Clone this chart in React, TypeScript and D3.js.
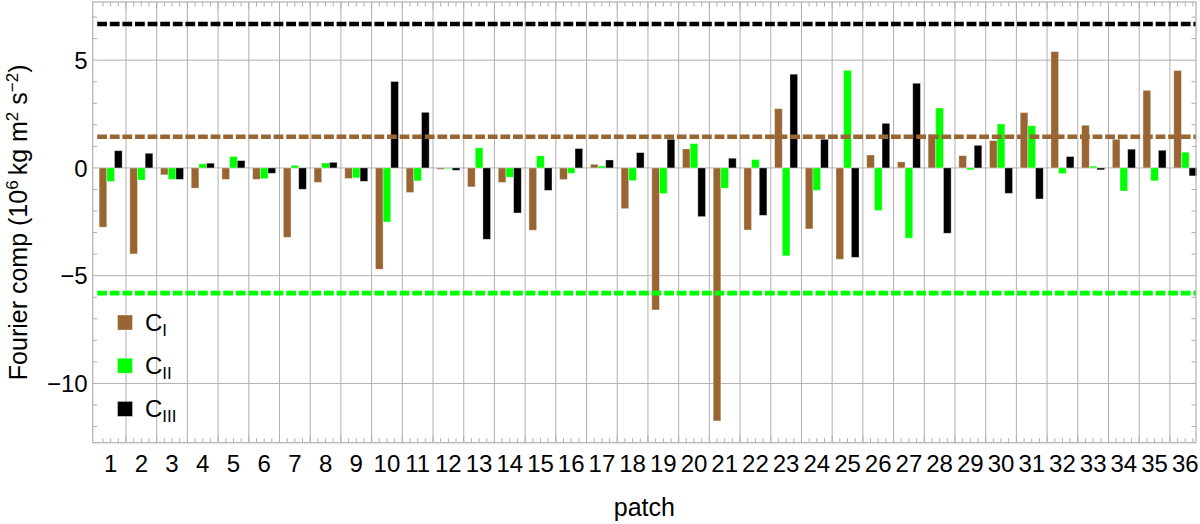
import React from "react";
import * as d3 from "d3";

const patchLabels = ["1","2","3","4","5","6","7","8","9","10","11","12","13","14","15","16","17","18","19","20","21","22","23","24","25","26","27","28","29","30","31","32","33","34","35","36"];

const cI = [-2.75, -3.99, -0.32, -0.94, -0.53, -0.53, -3.22, -0.67, -0.49, -4.70, -1.14, -0.06, -0.88, -0.67, -2.89, -0.54, 0.17, -1.89, -6.59, 0.88, -11.74, -2.88, 2.75, -2.83, -4.24, 0.60, 0.28, 1.56, 0.57, 1.27, 2.57, 5.40, 1.98, 1.33, 3.60, 4.52];
const cII = [-0.63, -0.56, -0.53, 0.19, 0.53, -0.50, 0.12, 0.23, -0.46, -2.51, -0.60, -0.03, 0.93, -0.43, 0.56, -0.25, 0.09, -0.59, -1.19, 1.13, -0.94, 0.39, -4.08, -1.04, 4.53, -1.98, -3.26, 2.78, -0.09, 2.04, 1.96, -0.26, 0.08, -1.07, -0.60, 0.73];
const cIII = [0.80, 0.68, -0.53, 0.22, 0.34, -0.25, -0.99, 0.26, -0.62, 4.01, 2.58, -0.11, -3.31, -2.09, -1.04, 0.90, 0.37, 0.71, 1.33, -2.26, 0.45, -2.20, 4.35, 1.33, -4.15, 2.07, 3.93, -3.03, 1.05, -1.18, -1.44, 0.53, -0.09, 0.87, 0.82, -0.37];

const seriesNames = ["I", "II", "III"];
const seriesColors = ["#996633", "#00ff00", "#000000"];

const refValues = [6.68, 1.45, -5.81];
const refColors = ["#000000", "#996633", "#00ff00"];

const yMajorTicks = [-10, -5, 0, 5];
const yTickLabels = ["\u221210", "\u22125", "0", "5"];

const W = 1200;
const H = 524;
const L = 92.7, R = 1196, T = 2, B = 442.7;

export default function App() {
  const x = d3.scaleLinear().domain([0.416, 36.35]).range([L, R]);
  const y = d3.scaleLinear().domain([-12.75, 7.7]).range([B, T]);
  const series = [cI, cII, cIII];
  const barW = 0.25;
  const font = "'Liberation Sans', Arial, Helvetica, sans-serif";
  const grid = "#b0b0b0";

  const vGrid = d3.range(1.5, 36, 1);
  const minorX: number[] = [];
  patchLabels.forEach((_, i) => {
    const c = i + 1;
    [c - 0.25, c, c + 0.25].forEach((v) => {
      if (v > 0.416 && v < 36.35) minorX.push(v);
    });
  });
  const minorY = d3.range(-12, 8, 1).filter((v) => !yMajorTicks.includes(v));

  return (
    <svg width={W} height={H} style={{ position: "absolute", left: 0, top: 0, background: "#fff" }} fontFamily={font}>
      {/* grid */}
      {vGrid.map((v) => (
        <line key={"vg" + v} x1={x(v)} x2={x(v)} y1={T} y2={B} stroke={grid} strokeWidth={1} />
      ))}
      {yMajorTicks.map((v) => (
        <line key={"hg" + v} x1={L} x2={R} y1={y(v)} y2={y(v)} stroke={grid} strokeWidth={1} />
      ))}
      {/* bars */}
      {series.map((vals, s) =>
        vals.map((v, i) => {
          const x0 = i + 1 - 0.375 + s * barW;
          const y0 = Math.min(y(0), y(v));
          const h = Math.abs(y(v) - y(0));
          return (
            <rect key={s + "-" + i} x={x(x0)} y={y0} width={x(x0 + barW) - x(x0)} height={h}
              fill={seriesColors[s]} stroke="#ffffff" strokeOpacity={0.45} strokeWidth={0.8} />
          );
        })
      )}
      {/* reference dashed lines */}
      {refValues.map((v, k) => (
        <line key={"ref" + k} x1={L + 4.5} x2={R} y1={y(v)} y2={y(v)} stroke={refColors[k]}
          strokeWidth={4.6} strokeDasharray="9.8 2.8" />
      ))}
      {/* ticks */}
      {vGrid.map((v) => (
        <g key={"mx" + v}>
          <line x1={x(v)} x2={x(v)} y1={B} y2={B - 7} stroke={grid} />
          <line x1={x(v)} x2={x(v)} y1={T} y2={T + 7} stroke={grid} />
        </g>
      ))}
      {minorX.map((v, i) => (
        <g key={"nx" + i}>
          <line x1={x(v)} x2={x(v)} y1={B} y2={B - 4.5} stroke={grid} />
          <line x1={x(v)} x2={x(v)} y1={T} y2={T + 4.5} stroke={grid} />
        </g>
      ))}
      {minorY.map((v) => (
        <g key={"ny" + v}>
          <line x1={L} x2={L + 4.5} y1={y(v)} y2={y(v)} stroke={grid} />
          <line x1={R} x2={R - 4.5} y1={y(v)} y2={y(v)} stroke={grid} />
        </g>
      ))}
      {/* frame */}
      <rect x={L} y={T} width={R - L} height={B - T} fill="none" stroke={grid} strokeWidth={1.2} />
      {/* tick labels */}
      {yMajorTicks.map((v, i) => (
        <text key={"yl" + v} x={L - 5} y={y(v)} dy="0.36em" textAnchor="end" fontSize={24} fill="#000">
          {yTickLabels[i]}
        </text>
      ))}
      {patchLabels.map((lab, i) => (
        <text key={"xl" + lab} x={x(i + 1)} y={472} textAnchor="middle" fontSize={24} fill="#000">
          {lab}
        </text>
      ))}
      {/* axis titles */}
      <text x={(L + R) / 2} y={516} textAnchor="middle" fontSize={25} fill="#000">patch</text>
      <text transform={`translate(27,${(T + B) / 2}) rotate(-90)`} textAnchor="middle" fontSize={25} fill="#000">
        Fourier comp (10
        <tspan dy={-9} fontSize={17}>6</tspan>
        <tspan dy={9}>{"\u2009kg m"}</tspan>
        <tspan dy={-9} fontSize={17}>2</tspan>
        <tspan dy={9}>{" s"}</tspan>
        <tspan dy={-9} fontSize={17}>{"\u22122"}</tspan>
        <tspan dy={9}>)</tspan>
      </text>
      {/* legend */}
      {seriesNames.map((nm, s) => {
        const cy = 322.5 + s * 43.2;
        return (
          <g key={"lg" + nm}>
            <rect x={117.5} y={cy - 7.5} width={15} height={15} fill={seriesColors[s]} stroke="#ffffff" strokeOpacity={0.45} strokeWidth={0.8} />
            <text x={145} y={cy + 8} fontSize={24} fill="#000">
              C<tspan dy={5} fontSize={17}>{nm}</tspan>
            </text>
          </g>
        );
      })}
    </svg>
  );
}
